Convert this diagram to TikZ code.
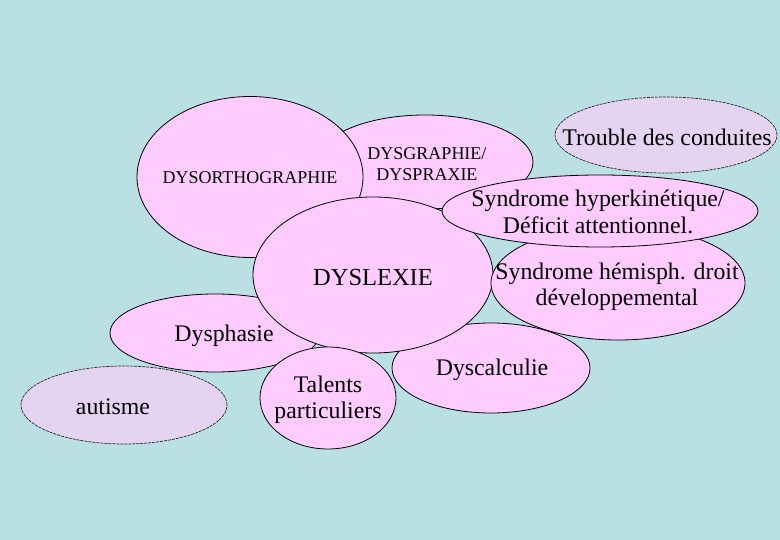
\documentclass[tikz,border=0pt]{standalone}
\usepackage{fontspec}
\setmainfont{Liberation Serif}
\usetikzlibrary{shapes.geometric}
\definecolor{bgc}{RGB}{186,224,227}
\definecolor{pinkc}{RGB}{255,204,255}
\definecolor{lavc}{RGB}{228,212,242}
\tikzset{
 blob/.style={ellipse, draw=black, line width=0.8pt, fill=pinkc, inner sep=0pt},
 lavblob/.style={ellipse, draw=black!85, line width=0.7pt, dash pattern=on 3pt off 1pt, fill=lavc, inner sep=0pt},
 lbl/.style={align=center, inner sep=0pt, text=black, font=\fontsize{23.8}{26.5}\selectfont},
 smlbl/.style={align=center, inner sep=0pt, text=black, font=\fontsize{18}{21}\selectfont},
}
\begin{document}
\begin{tikzpicture}[x=1pt,y=-1pt]
\fill[bgc] (0,0) rectangle (780,540);
\useasboundingbox (0,0) rectangle (780,540);
% shapes in stacking order
\node[blob, minimum width=216pt, minimum height=94pt] (egraph) at (425,162) {};
\node[smlbl] (tgraph) at (427,164) {DYSGRAPHIE/\\DYSPRAXIE};
\node[blob, minimum width=226pt, minimum height=161pt] (eortho) at (250,177) {};
\node[smlbl] (tortho) at (250,178) {DYSORTHOGRAPHIE};
\node[blob, minimum width=210pt, minimum height=78pt] (ephasie) at (215,333) {};
\node[lbl] (tphasie) at (224,336) {Dysphasie};
\node[blob, minimum width=198pt, minimum height=90pt] (ecalc) at (491,368) {};
\node[lbl] (tcalc) at (492,370) {Dyscalculie};
\node[blob, minimum width=240pt, minimum height=156pt] (elex) at (373,275) {};
\node[blob, minimum width=254pt, minimum height=114pt] (ehemi) at (618,283) {};
\node[lbl] (themi) at (617,287) {Syndrome hémisph. droit\\développemental};
\node[lbl, font=\fontsize{24.5}{27}\selectfont] (tlex) at (373,278) {DYSLEXIE};
\node[blob, minimum width=316pt, minimum height=72pt] (ehyper) at (600,211) {};
\node[lbl] (thyper) at (598,212) {Syndrome hyperkinétique/\\Déficit attentionnel.};
\node[lavblob, minimum width=222pt, minimum height=76pt] (etrouble) at (666,135) {};
\node[lbl] (ttrouble) at (667,137) {Trouble des conduites};
\node[blob, minimum width=136pt, minimum height=102pt] (etalent) at (328,398) {};
\node[lbl] (ttalent) at (328,400) {Talents\\particuliers};
\node[lavblob, minimum width=206pt, minimum height=78pt] (eaut) at (124,405) {};
\node[lbl] (taut) at (113,407) {autisme};
\end{tikzpicture}
\end{document}
